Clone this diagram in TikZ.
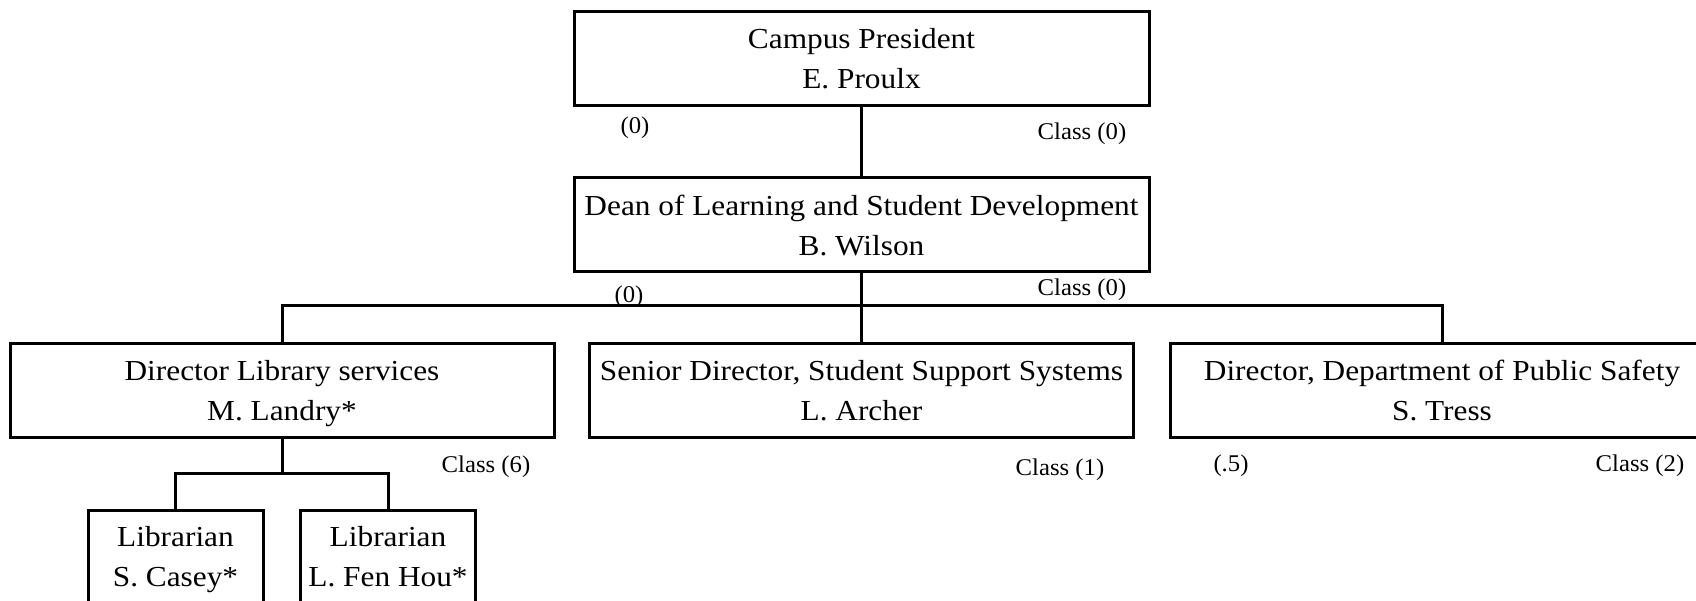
\documentclass[tikz,border=0pt]{standalone}
\usepackage{fontspec}
\setmainfont{Liberation Serif}
\newfontfamily\boxfont{Liberation Serif}[FakeStretch=1.08]
\newfontfamily\labfont{Liberation Serif}[FakeStretch=1.03]
\begin{document}
\begin{tikzpicture}[x=1pt,y=-1pt,
  orgbox/.style={draw, line width=3pt, rectangle, inner sep=0pt, align=center,
    minimum height=94pt, text depth=0pt, font=\boxfont\fontsize{29}{40}\selectfont},
  libbox/.style={draw, line width=3pt, rectangle, inner sep=0pt, anchor=north,
    minimum width=175pt, minimum height=140pt},
  libtext/.style={inner sep=0pt, align=center, text depth=0pt,
    font=\boxfont\fontsize{29}{40}\selectfont},
  wire/.style={line width=3pt},
  tag/.style={inner sep=0pt, font=\labfont\fontsize{24}{28}\selectfont}]
\clip (0,0) rectangle (1696,601);
\fill[white] (0,0) rectangle (1696,601);
% boxes
\node[orgbox, minimum width=575pt] (pres) at (861.5,58.5) {Campus President\\E. Proulx};
\node[orgbox, minimum width=575pt] (dean) at (861.5,225) {Dean of Learning and Student Development\\B. Wilson};
\node[orgbox, minimum width=544pt] (lib) at (282,390.5) {Director Library services\\M. Landry*};
\node[orgbox, minimum width=544pt] (sss) at (861.5,390.5) {Senior Director, Student Support Systems\\L. Archer};
\node[orgbox, minimum width=544pt] (dps) at (1442,390.5) {Director, Department of Public Safety\\S. Tress};
\node[libbox] (lib1) at (175.5,509) {};
\node[libbox] (lib2) at (388,509) {};
\node[libtext] (lib1t) at (175.5,556) {Librarian\\S. Casey*};
\node[libtext] (lib2t) at (388,556) {Librarian\\L. Fen Hou*};
% connectors
\coordinate (libj) at (282,473);
\draw[wire] (pres.south) -- (dean.north);
\draw[wire] (dean.south) -- (sss.north);
\draw[wire] (lib.north) -- ++(0,-36) -| (dps.north);
\draw[wire] (lib.south) -- (libj);
\draw[wire] (lib1.north) |- (libj) -| (lib2.north);
% labels
\node[tag] (t1) at (635,128) {(0)};
\node[tag] (t2) at (1082,134) {Class (0)};
\node[tag] (t3) at (629,297) {(0)};
\node[tag] (t4) at (1082,290) {Class (0)};
\node[tag] (t5) at (486,467) {Class (6)};
\node[tag] (t6) at (1060,470) {Class (1)};
\node[tag] (t7) at (1231,466) {(.5)};
\node[tag] (t8) at (1640,466) {Class (2)};
\end{tikzpicture}
\end{document}
